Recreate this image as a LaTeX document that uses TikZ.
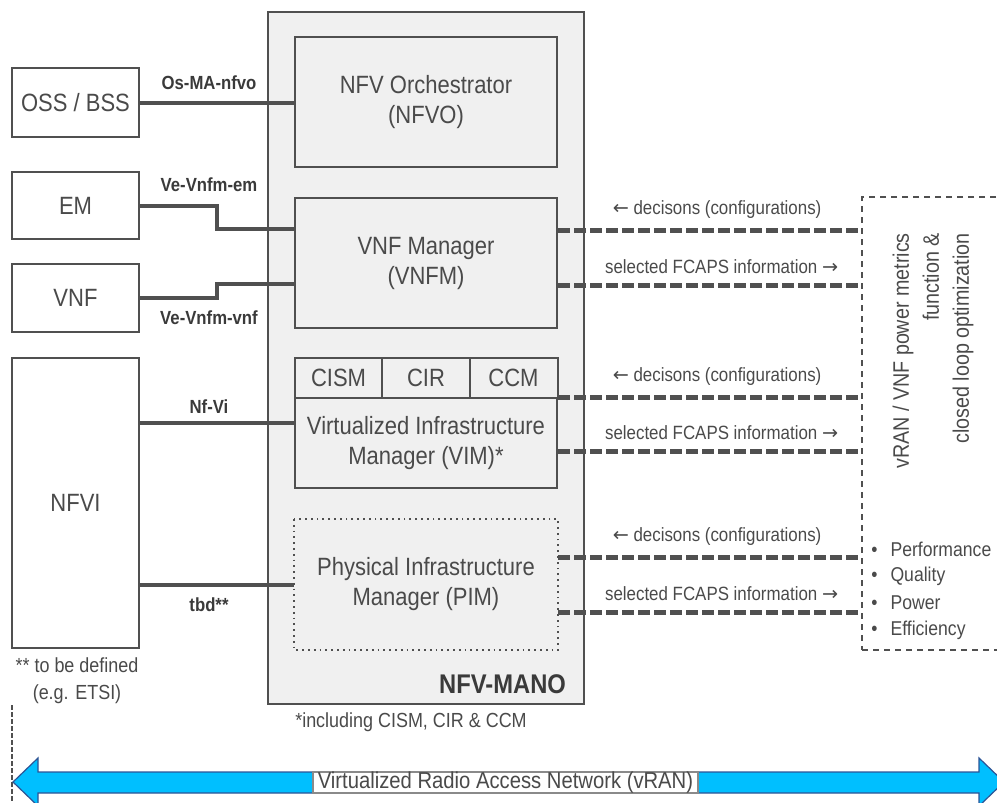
\documentclass[tikz,border=0pt]{standalone}
\usepackage{fontspec}
\setmainfont{Liberation Sans}[FakeStretch=0.88]
\newfontfamily\arrowfont{DejaVu Sans}
\usetikzlibrary{calc}
\definecolor{linegray}{HTML}{505050}
\definecolor{textgray}{HTML}{4A4A4A}
\definecolor{textdark}{HTML}{3A3A3A}
\definecolor{boxgray}{HTML}{F0F0F0}
\definecolor{labelgray}{HTML}{8A8A8A}
\definecolor{arrowblue}{RGB}{0,191,255}
\definecolor{arrowdark}{RGB}{58,146,214}
\definecolor{arrowedge}{RGB}{45,85,150}
\pgfdeclarehorizontalshading{vranshade}{100bp}{color(0bp)=(arrowdark);
  color(12bp)=(arrowblue); color(100bp)=(arrowblue)}
\newcommand{\la}{{\arrowfont ←}}
\newcommand{\ra}{{\arrowfont →}}
\tikzset{
  font=\fontsize{12.5}{15}\selectfont,
  every node/.append style={text=textgray},
  % General box
  box/.style={draw=linegray, line width=1pt, fill=white, align=center,
    inner sep=0pt},
  % Box inside NFV-MANO
  mbox/.style={box, fill=boxgray, minimum width=131pt},
  % Cell of the VIM header
  cell/.style={mbox, minimum width=44pt, minimum height=20pt},
  % Reference point
  ref-/.style={draw=linegray, line width=2pt},
  refl/.style={font=\bfseries\fontsize{9.5}{11}\selectfont, text=textdark},
  % Information flows
  flow-/.style={draw=linegray, line width=2.5pt, dash pattern=on 6pt off 2pt},
  flowl/.style={font=\fontsize{9.6}{11}\selectfont},
  % Notes
  note/.style={font=\fontsize{10.2}{13.5}\selectfont, align=center},
}

\begin{document}
\begin{tikzpicture}[x=0.5pt, y=-0.5pt]
  \useasboundingbox (0,0) rectangle (997,803);
  \clip (0,0) rectangle (997,803);

  % NFV-MANO
  \node[box, fill=boxgray, minimum width=158pt, minimum height=346pt] (mano) at (426,358) {};
  \node[font=\bfseries\fontsize{13.5}{16}\selectfont, text=textdark, anchor=east] (manol) at (573,684) {NFV-MANO};

  \node[mbox, minimum height=65pt] (nfvo) at (426,102) {NFV Orchestrator\\(NFVO)};
  \node[mbox, minimum height=65pt] (vnfm) at (426,263) {VNF Manager\\(VNFM)};
  \node[mbox, minimum height=45pt] (vim) at (426,443) {Virtualized Infrastructure\\Manager (VIM)*};
  \node[cell] (cism) at (338.5,378) {CISM};
  \node[cell] (cir) at (426,378) {CIR};
  \node[cell] (ccm) at (513.5,378) {CCM};
  \node[mbox, draw=none, minimum height=64.5pt] (pim) at (426,584.5) {Physical Infrastructure\\Manager (PIM)};
  \draw[linegray, line width=0.9pt, dotted] (pim.north west) rectangle (pim.south east);

  \node[note] (vimnote) at (411,722) {*including CISM, CIR \& CCM};

  % Left side
  \node[box, minimum width=63.5pt, minimum height=34.5pt] (oss) at (75.5,102.5) {OSS / BSS};
  \node[box, minimum width=63.5pt, minimum height=33.5pt] (em) at (75.5,205.5) {EM};
  \node[box, minimum width=63.5pt, minimum height=34pt] (vnf) at (75.5,298) {VNF};
  \node[box, minimum width=63.5pt, minimum height=145pt] (nfvi) at (75.5,503) {NFVI};
  \node[note] (tbdnote) at (77,681) {** to be defined\\(e.g. ETSI)};

  \coordinate (jog) at (217,0);
  \draw[ref-] (oss.east) -- (oss.east -| nfvo.west);
  \draw[ref-] (em.east) -- (em.east -| jog) |- ([yshift=17pt]vnfm.west);
  \draw[ref-] (vnf.east) -- (vnf.east -| jog) |- ([yshift=-10.5pt]vnfm.west);
  \draw[ref-] ([yshift=10pt]vim.west -| nfvi.east) -- ([yshift=10pt]vim.west);
  \draw[ref-] (pim.west -| nfvi.east) -- (pim.west);

  \node[refl] (osl) at (209,83) {Os-MA-nfvo};
  \node[refl] (eml) at (209,185) {Ve-Vnfm-em};
  \node[refl] (vnfl) at (209,318) {Ve-Vnfm-vnf};
  \node[refl] (nfvil) at (209,407) {Nf-Vi};
  \node[refl] (tbdl) at (209,605) {tbd**};

  % Right side
  \node[draw=linegray, line width=1pt, dash pattern=on 3pt off 2.5pt,
    minimum width=71.5pt, minimum height=226.5pt] (pmf) at (933.5,423.5) {};
  \node[rotate=90, align=right, font=\fontsize{11.2}{15}\selectfont] (pmft) at (933,351)
    {vRAN / VNF power metrics\\function \&\\closed loop optimization};
  \foreach \t [count=\i from 0] in {Performance, Quality, Power, Efficiency}
    \node[note, anchor=west, inner sep=0pt, font=\fontsize{10}{12}\selectfont] (item\i)
      at (871,549+27*\i) {\textbullet\hspace{6.5pt}\t};

  \foreach \m/\a/\b in {vnfm/16.5/-11, vim/23/-4, pim/13.75/-13.75} {
    \draw[flow-] ([yshift=\a pt]\m.east) -- ([yshift=\a pt]\m.east -| pmf.west)
      node[flowl, pos=0.525, above=1pt] {\la{} decisons (configurations)};
    \draw[flow-] ([yshift=\b pt]\m.east) -- ([yshift=\b pt]\m.east -| pmf.west)
      node[flowl, pos=0.54, above=1pt] {selected FCAPS information \ra};
  }

  % vRAN
  \coordinate (dtop) at (12,705);
  \coordinate (dbot) at (12,803);
  \draw[linegray, line width=1pt, dash pattern=on 2.5pt off 1pt] (dtop) -- (dbot);
  \path[draw=arrowedge, line width=0.6pt, shading=vranshade]
    (13,782) -- (38,758) -- (38,772) -- (979,772) -- (979,758)
    -- (1004,782) -- (979,806) -- (979,793) -- (38,793) -- (38,806) -- cycle;
  \node[draw=labelgray, fill=white, line width=0.8pt, minimum width=192.5pt,
    minimum height=10.5pt, inner sep=0pt, font=\fontsize{11.5}{13}\selectfont] (vran)
    at (505.5,782.5) {Virtualized Radio Access Network (vRAN)};
\end{tikzpicture}
\end{document}
